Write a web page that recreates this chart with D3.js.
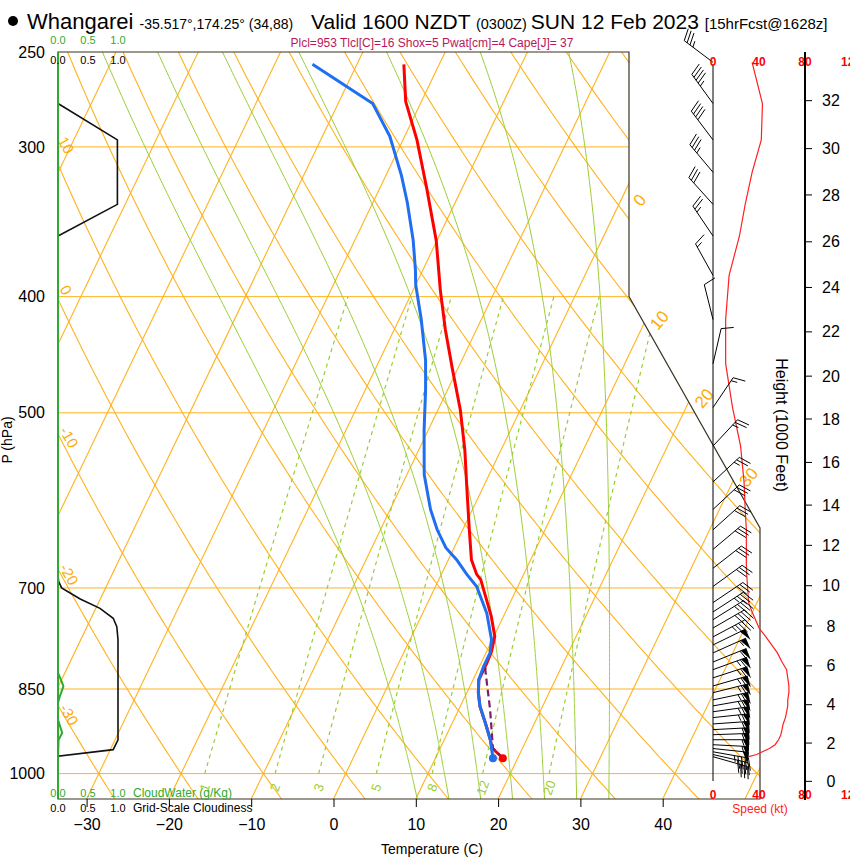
<!DOCTYPE html>
<html>
<head>
<meta charset="utf-8">
<script src="https://cdn.jsdelivr.net/npm/d3@7"></script>
<style>
body { margin: 0; background: #fff; }
svg text { font-family: "Liberation Sans", Arial, sans-serif; }
</style>
</head>
<body>
<svg id="chart" width="850" height="860"></svg>
<script>
// ---- sounding ----
const tempP = [971, 952, 937, 907, 879, 856, 835, 809, 791, 768, 739, 712, 689, 682, 663, 626, 580, 537, 497, 460, 426, 395, 359, 324, 296, 275, 256];
const tempT = [18.2, 16.3, 15.6, 14.0, 12.4, 11.4, 10.7, 10.7, 10.6, 10.1, 8.5, 6.7, 5.1, 4.3, 2.8, 0.8, -1.8, -4.4, -7.3, -10.6, -13.8, -16.7, -20.1, -24.4, -28.3, -31.9, -34.3];
const dewP = [971, 937, 907, 879, 856, 835, 814, 793, 773, 735, 698, 682, 663, 648, 626, 602, 563, 517, 478, 452, 418, 391, 380, 359, 334, 317, 294, 276, 265, 256];
const dewT = [17.0, 15.6, 14.0, 12.4, 11.4, 10.7, 10.5, 10.5, 9.9, 7.8, 5.0, 3.1, 1.0, -1.0, -3.1, -5.1, -7.9, -10.5, -12.7, -14.4, -17.3, -20.0, -20.9, -22.9, -25.8, -28.1, -31.8, -35.8, -41.0, -45.4];
const parcelP = [971, 952, 884, 819, 809];
const parcelT = [18.2, 16.4, 13.8, 10.9, 10.7];

// winds (kt)
const windP = [255, 276, 296, 315, 335, 356, 384, 418, 455, 495, 533, 571, 602, 626, 650, 674, 698, 720, 733, 744, 756, 769, 781, 793, 807, 819, 832, 845, 856, 868, 878, 888, 898, 909, 919, 928, 937, 946, 953, 959, 964, 968];
const windDir = [307, 324, 323, 320, 318, 326, 331, 346, 13, 34, 43, 47, 47, 48, 50, 52, 54, 56, 57, 58, 60, 62, 64, 66, 68, 70, 72, 74, 76, 78, 80, 82, 84, 86, 87, 88, 90, 93, 96, 100, 103, 106];
const windSpd = [34, 43, 42, 34, 28, 23, 14, 11, 11, 17, 24, 27, 28, 29, 29, 29, 30, 31, 34, 37, 40, 46, 51, 56, 60, 64, 65, 66, 66, 65, 65, 64, 63, 61, 60, 59, 57, 54, 49, 43, 38, 31];

// cloud panel
const cloudP = [250, 276, 296, 335, 356, 685, 691, 700, 715, 728, 742, 754, 773, 937, 955, 967, 1050];
const cloudFrac = [0, 0, 0.99, 0.99, 0, 0, 0.01, 0.06, 0.37, 0.70, 0.92, 0.98, 1.0, 1.0, 0.92, 0, 0];
const cwP = [250, 824, 840, 846, 862, 873, 902, 925, 937, 967, 1050];
const cwVal = [0, 0, 0.07, 0.09, 0.03, 0, 0, 0.07, 0.01, 0, 0];

// axes
const pTicks = [250, 300, 400, 500, 700, 850, 1000];
const isobars = [300, 400, 500, 700, 850, 1000];
const tTicks = [-30, -20, -10, 0, 10, 20, 30, 40];
const heightKft = [0, 2, 4, 6, 8, 10, 12, 14, 16, 18, 20, 22, 24, 26, 28, 30, 32];
const heightP = [1015, 943, 876, 813, 753, 697, 645, 597, 550, 506, 466, 428, 393, 360, 329, 301, 274.5];
const cloudTicks = [0, 0.5, 1.0];
const speedTicks = [0, 40, 80, 120];

// background lines
const isotherms = [-110, -100, -90, -80, -70, -60, -50, -40, -30, -20, -10, 0, 10, 20, 30, 40, 50];
const isothermLabels = [0, 10, 20, 30];
const dryAdiabats = [-30, -20, -10, 0, 10, 20, 30, 40, 50, 60, 70, 80, 90, 100, 110, 120, 130, 140, 150, 160, 170, 180, 190, 200];
const dryLabels = [-30, -20, -10, 0, 10];
const dryLabelP = [893, 682, 524, 395, 299];
const moistAdiabats = [8, 12, 16, 20, 24, 28, 32];
const mixRatios = [1, 2, 3, 5, 8, 12, 20];

const svg = d3.select('#chart');

// ---- scales ----
const yScale = d3.scaleLog().domain([1050, 250]).range([799, 52]);
const xTemp = d3.scaleLinear().domain([-30, 40]).range([86.6, 662.7]);
const skew = 0.48;
const xCloud = d3.scaleLinear().domain([0, 1]).range([58, 118]);
const xSpeed = d3.scaleLinear().domain([0, 120]).range([713, 851]);

const X = (T, p) => xTemp(T) + skew * (799 - yScale(p));
const Y = p => yScale(p);

const ORANGE = '#ffb21e';
const YGREEN = '#9acd32';

// clip region of the thermodynamic diagram
const clipPts = [[58, 52], [629, 52], [629, Y(400)], [760, 528], [760, 799], [58, 799]];
svg.append('clipPath').attr('id', 'diag')
    .append('polygon').attr('points', clipPts.map(d => d.join(',')).join(' '));

const bg = svg.append('g').attr('clip-path', 'url(#diag)');
const line = d3.line().x(d => d[0]).y(d => d[1]);

// thermo helpers
const Rd = 287.04, Cp = 1005.7, Lv = 2.501e6, eps = 0.622;
const es = Tc => 6.112 * Math.exp(17.67 * Tc / (Tc + 243.5));
function dTdp(Tk, p) {
    const e = es(Tk - 273.15);
    const rs = eps * e / (p - e);
    return ((Rd * Tk + Lv * rs) / p) / (Cp + Lv * Lv * rs * eps / (Rd * Tk * Tk));
}
function moistPath(thw) {
    let pts = [];
    [[-1, 240], [1, 1060]].forEach(([dir, pEnd]) => {
        let T = thw + 273.15, p = 1000;
        const seg = [[p, T]];
        while ((dir < 0 && p > pEnd) || (dir > 0 && p < pEnd)) {
            const dp = dir * 2;
            const k1 = dTdp(T, p);
            const k2 = dTdp(T + k1 * dp / 2, p + dp / 2);
            T += k2 * dp; p += dp;
            seg.push([p, T]);
        }
        if (dir < 0) pts = seg.reverse().concat(pts);
        else pts = pts.concat(seg.slice(1));
    });
    return pts.map(d => [X(d[1] - 273.15, d[0]), Y(d[0])]);
}
function mixTd(w, p) {
    const e = p * w / (622 + w);
    const l = Math.log(e / 6.112);
    return 243.5 * l / (17.67 - l);
}
const pFine = d3.range(1060, 239, -5);

// isobars
bg.selectAll('.isobar').data(isobars).enter().append('line')
    .attr('x1', 58).attr('x2', 760)
    .attr('y1', d => Y(d)).attr('y2', d => Y(d))
    .attr('stroke', ORANGE).attr('stroke-width', 1);

// isotherms
bg.selectAll('.isotherm').data(isotherms).enter().append('line')
    .attr('x1', d => X(d, 1050)).attr('y1', Y(1050))
    .attr('x2', d => X(d, 240)).attr('y2', Y(240))
    .attr('stroke', ORANGE).attr('stroke-width', 1.1);

// dry adiabats
bg.selectAll('.dry').data(dryAdiabats).enter().append('path')
    .attr('d', th => line(pFine.map(p => [X((th + 273.15) * Math.pow(p / 1000, 0.2857) - 273.15, p), Y(p)])))
    .attr('fill', 'none').attr('stroke', ORANGE).attr('stroke-width', 1.1);

// moist adiabats
bg.selectAll('.moist').data(moistAdiabats).enter().append('path')
    .attr('d', th => line(moistPath(th)))
    .attr('fill', 'none').attr('stroke', YGREEN).attr('stroke-width', 1);

// mixing ratio
const pMix = d3.range(1000, 399, -10);
bg.selectAll('.mix').data(mixRatios).enter().append('path')
    .attr('d', w => line(pMix.map(p => [X(mixTd(w, p), p), Y(p)])))
    .attr('fill', 'none').attr('stroke', YGREEN).attr('stroke-width', 1.2)
    .attr('stroke-dasharray', '4,4');

svg.selectAll('.mixlab').data(mixRatios).enter().append('text')
    .attr('transform', w => `translate(${X(mixTd(w, 1000), 1000)},${Y(1000) + 14}) rotate(-70)`)
    .attr('text-anchor', 'middle').attr('dy', '0.35em')
    .attr('font-size', 13).attr('fill', YGREEN).text(w => w);

// isotherm labels at right boundary
function boundaryX(y) { return y <= Y(400) ? 629 : Math.min(760, 629 + (y - Y(400)) * (760 - 629) / (528 - Y(400))); }
isothermLabels.forEach(T => {
    // walk up the isotherm until it leaves the diagram
    let xe = 0, ye = 0;
    for (let p = 1050; p > 250; p -= 1) {
        const x = X(T, p), y = Y(p);
        if (x > boundaryX(y)) { xe = x; ye = y; break; }
    }
    const onEdge = ye < Y(400);
    svg.append('text')
        .attr('transform', onEdge ? `translate(${xe + 10},${ye + 18}) rotate(-50)` : `translate(${xe + 15},${ye - 3}) rotate(-50)`)
        .attr('text-anchor', 'middle').attr('dy', '0.35em')
        .attr('font-size', 17).attr('fill', '#ffaa00').text(T);
});

// dry adiabat labels at left edge
svg.selectAll('.drylab').data(dryLabels).enter().append('text')
    .attr('transform', (th, i) => `translate(${th < 0 ? 69 : 66},${Y(dryLabelP[i])}) rotate(60)`)
    .attr('text-anchor', 'middle').attr('dy', '0.35em')
    .attr('font-size', 15).attr('fill', '#ffaa00').text(th => th);

// frame
svg.append('polygon').attr('points', clipPts.map(d => d.join(',')).join(' '))
    .attr('fill', 'none').attr('stroke', '#3a3322').attr('stroke-width', 1.2);

// ---- cloud panel ----
svg.append('path')
    .attr('d', line(cwP.map((p, i) => [xCloud(cwVal[i]), Y(p)])))
    .attr('fill', 'none').attr('stroke', '#2eaa2e').attr('stroke-width', 2);
svg.append('path')
    .attr('d', line(cloudP.map((p, i) => [xCloud(cloudFrac[i]), Y(p)])))
    .attr('fill', 'none').attr('stroke', '#111').attr('stroke-width', 1.6);
// green axis on top where cloudiness is zero
svg.append('line').attr('x1', 58).attr('x2', 58).attr('y1', 52).attr('y2', 799)
    .attr('stroke', '#2eaa2e').attr('stroke-width', 2);

[[44, '#2eaa2e'], [64, '#000'], [797, '#2eaa2e'], [812, '#000']].forEach(([y, c]) => {
    svg.selectAll(null).data(cloudTicks).enter().append('text')
        .attr('x', d => xCloud(d)).attr('y', y)
        .attr('text-anchor', 'middle').attr('font-size', 11).attr('fill', c)
        .text(d => d.toFixed(1));
});
svg.append('text').attr('x', 133).attr('y', 797).attr('font-size', 12).attr('fill', '#2eaa2e').text('CloudWater (g/Kg)');
svg.append('text').attr('x', 133).attr('y', 812).attr('font-size', 12).attr('fill', '#000').text('Grid-Scale Cloudiness');

// ---- sounding lines ----
svg.append('path')
    .attr('d', line(tempP.map((p, i) => [X(tempT[i], p), Y(p)])))
    .attr('fill', 'none').attr('stroke', '#ff0000').attr('stroke-width', 3);
svg.append('path')
    .attr('d', line(parcelP.map((p, i) => [X(parcelT[i], p), Y(p)])))
    .attr('fill', 'none').attr('stroke', '#7b1d6b').attr('stroke-width', 2.2)
    .attr('stroke-dasharray', '7,4');
svg.append('path')
    .attr('d', line(dewP.map((p, i) => [X(dewT[i], p), Y(p)])))
    .attr('fill', 'none').attr('stroke', '#1f6ff0').attr('stroke-width', 3);
svg.append('circle').attr('cx', X(tempT[0], tempP[0])).attr('cy', Y(tempP[0])).attr('r', 4).attr('fill', '#ff0000');
svg.append('circle').attr('cx', X(dewT[0], dewP[0])).attr('cy', Y(dewP[0])).attr('r', 4).attr('fill', '#1f6ff0');

// ---- pressure axis ----
svg.selectAll('.plab').data(pTicks).enter().append('text')
    .attr('x', 45).attr('y', d => Y(d)).attr('dy', '0.35em')
    .attr('text-anchor', 'end').attr('font-size', 16).text(d => d);
svg.append('text').attr('transform', 'translate(12,440) rotate(-90)')
    .attr('text-anchor', 'middle').attr('font-size', 14).text('P (hPa)');

// temperature axis
svg.append('g').attr('transform', 'translate(0,799)')
    .call(d3.axisBottom(xTemp).tickValues(tTicks).tickSize(8).tickPadding(12).tickFormat(d3.format('d')))
    .call(g => g.select('.domain').remove())
    .call(g => g.selectAll('text').attr('font-size', 16).attr('font-family', '"Liberation Sans", Arial, sans-serif'));
svg.append('text').attr('x', 432).attr('y', 854).attr('text-anchor', 'middle')
    .attr('font-size', 14).text('Temperature (C)');

// ---- wind panel ----
svg.append('line').attr('x1', xSpeed(0)).attr('x2', xSpeed(0)).attr('y1', 64).attr('y2', 781)
    .attr('stroke', '#000').attr('stroke-width', 1);

svg.append('path')
    .attr('d', line(windP.map((p, i) => [xSpeed(windSpd[i]), Y(p)])))
    .attr('fill', 'none').attr('stroke', '#ff2020').attr('stroke-width', 1.2);

const barbs = svg.append('g');
function drawBarb(x0, y0, dir, spd) {
    const L = 36, fl = 12, gap = 3.6;
    const a = dir * Math.PI / 180;
    const ux = Math.sin(a), uy = -Math.cos(a);
    const vx = -uy, vy = ux;
    const tx = x0 + ux * L, ty = y0 + uy * L;
    barbs.append('line').attr('x1', x0).attr('y1', y0).attr('x2', tx).attr('y2', ty)
        .attr('stroke', '#000').attr('stroke-width', 1);
    let s = Math.round(spd / 5) * 5;
    let pos = 0;
    while (s >= 50) {
        const p1 = [tx - ux * pos, ty - uy * pos];
        const p2 = [p1[0] + vx * fl, p1[1] + vy * fl];
        const p3 = [tx - ux * (pos + 6), ty - uy * (pos + 6)];
        barbs.append('polygon').attr('points', [p1, p2, p3].map(d => d.join(',')).join(' '))
            .attr('fill', '#000');
        pos += 7; s -= 50;
    }
    while (s >= 10) {
        const p1 = [tx - ux * pos, ty - uy * pos];
        barbs.append('line').attr('x1', p1[0]).attr('y1', p1[1])
            .attr('x2', p1[0] + vx * fl + ux * 4).attr('y2', p1[1] + vy * fl + uy * 4)
            .attr('stroke', '#000').attr('stroke-width', 1);
        pos += gap; s -= 10;
    }
    if (s >= 5) {
        if (pos === 0) pos = gap;
        const p1 = [tx - ux * pos, ty - uy * pos];
        barbs.append('line').attr('x1', p1[0]).attr('y1', p1[1])
            .attr('x2', p1[0] + vx * fl / 2 + ux * 2).attr('y2', p1[1] + vy * fl / 2 + uy * 2)
            .attr('stroke', '#000').attr('stroke-width', 1);
    }
}
windP.forEach((p, i) => drawBarb(xSpeed(0), Y(p), windDir[i], windSpd[i]));

// speed labels
[62, 795].forEach(y => {
    svg.selectAll(null).data(speedTicks).enter().append('text')
        .attr('x', d => xSpeed(d)).attr('y', y).attr('dy', '0.35em')
        .attr('text-anchor', 'middle').attr('font-size', 12).attr('font-weight', 'bold')
        .attr('fill', '#ff0000').text(d => d);
});
svg.append('text').attr('x', 760).attr('y', 813).attr('text-anchor', 'middle')
    .attr('font-size', 12).attr('fill', '#ff2020').text('Speed (kt)');

// height axis
svg.append('line').attr('x1', 805).attr('x2', 805).attr('y1', 52).attr('y2', 800)
    .attr('stroke', '#000').attr('stroke-width', 2);
heightKft.forEach((h, i) => {
    svg.append('line').attr('x1', 805).attr('x2', 812).attr('y1', Y(heightP[i])).attr('y2', Y(heightP[i]))
        .attr('stroke', '#000');
    svg.append('text').attr('x', 831).attr('y', Y(heightP[i])).attr('dy', '0.35em')
        .attr('text-anchor', 'middle').attr('font-size', 16).text(h);
});
svg.append('text').attr('transform', 'translate(776,425) rotate(90)')
    .attr('text-anchor', 'middle').attr('font-size', 16).text('Height (1000 Feet)');

// ---- titles ----
svg.append('circle').attr('cx', 13).attr('cy', 21).attr('r', 5).attr('fill', '#000');
const t1 = svg.append('text').attr('x', 27).attr('y', 29);
t1.append('tspan').attr('font-size', 22).text('Whangarei ');
t1.append('tspan').attr('font-size', 14).text('-35.517°,174.25° (34,88)');
const t2 = svg.append('text').attr('x', 311).attr('y', 29);
t2.append('tspan').attr('font-size', 21).text('Valid 1600 NZDT ');
t2.append('tspan').attr('font-size', 14.5).text('(0300Z) ');
t2.append('tspan').attr('font-size', 21).text('SUN 12 Feb 2023 ');
t2.append('tspan').attr('font-size', 15).text('[15hrFcst@1628z]');
svg.append('text').attr('x', 432).attr('y', 47).attr('text-anchor', 'middle')
    .attr('font-size', 12).attr('fill', '#b8175a')
    .text('Plcl=953 Tlcl[C]=16 Shox=5 Pwat[cm]=4 Cape[J]= 37');
</script>
</body>
</html>
